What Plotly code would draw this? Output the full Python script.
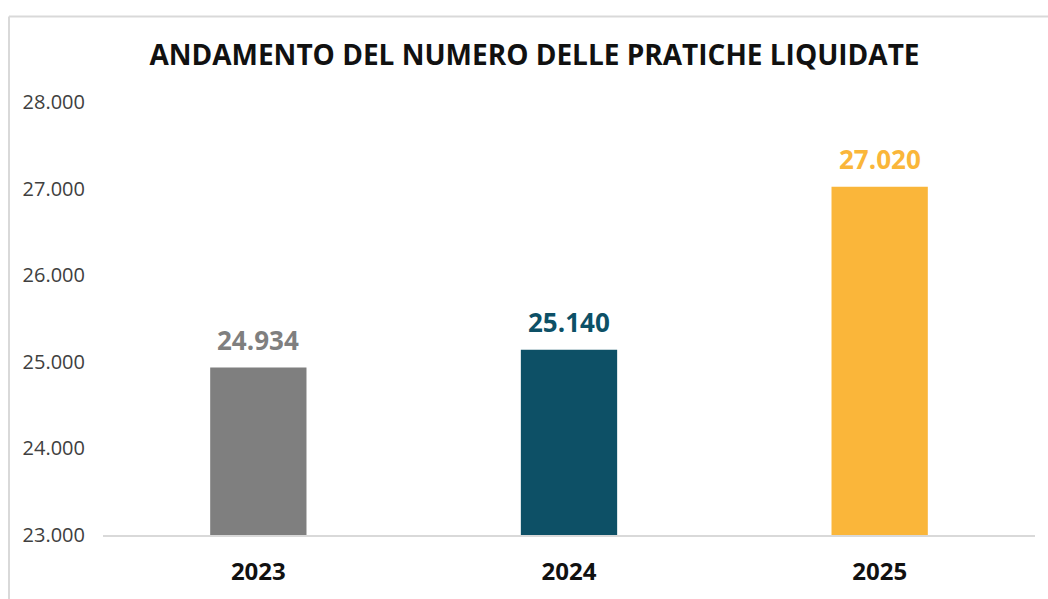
import plotly.graph_objects as go

years = ["2023", "2024", "2025"]
values = [24934, 25140, 27020]
bar_colors = ["#7f7f7f", "#0d5066", "#fab63a"]
y_ticks = [23000, 24000, 25000, 26000, 27000, 28000]
title_text = "ANDAMENTO DEL NUMERO DELLE PRATICHE LIQUIDATE"

W, H = 1048, 599
ml, mr, mt, mb = 103, 13, 102, 56

fig = go.Figure()
fig.add_trace(go.Bar(
    x=list(range(len(years))), y=values, marker_color=bar_colors, marker_line_width=0,
    width=0.31, hoverinfo="skip"
))

for i, (v, c) in enumerate(zip(values, bar_colors)):
    fig.add_annotation(
        x=i, y=v, xref="x", yref="y", text=f"<b>{v:,}</b>".replace(",", "."),
        showarrow=False, yanchor="bottom", yshift=8,
        font=dict(family="Open Sans", size=26, color=c)
    )

pw = W - ml - mr
ph = H - mt - mb

def px_to_paper_x(px):
    return (px - ml) / pw

def px_to_paper_y(py):
    return (H - mb - py) / ph

fig.add_shape(type="line", xref="paper", yref="paper",
              x0=px_to_paper_x(9), x1=px_to_paper_x(1048), y0=px_to_paper_y(15), y1=px_to_paper_y(15),
              line=dict(color="#d9d9d9", width=2))
fig.add_shape(type="line", xref="paper", yref="paper",
              x0=px_to_paper_x(9), x1=px_to_paper_x(9), y0=px_to_paper_y(15), y1=px_to_paper_y(610),
              line=dict(color="#d9d9d9", width=2))

fig.update_layout(
    width=W, height=H,
    margin=dict(l=ml, r=mr, t=mt, b=mb),
    paper_bgcolor="white", plot_bgcolor="white",
    separators=",.",
    showlegend=False,
    title=dict(text=f"<b>{title_text}</b>", x=0.51, xanchor="center",
               y=1 - 55 / H, yanchor="middle",
               font=dict(family="Open Sans", size=28, color="#111111")),
    xaxis=dict(range=[-0.5, len(years) - 0.5], tickvals=list(range(len(years))), ticktext=years,
               showline=True, linecolor="#d9d9d9", linewidth=2, zeroline=False,
               tickfont=dict(family="Open Sans", size=24, color="#111111", weight=700),
               ticks="", ticklabelstandoff=14, showgrid=False),
    yaxis=dict(range=[23000, 28000], tickvals=y_ticks, tickformat=",d",
               showgrid=False, zeroline=False, showline=False, ticks="",
               tickfont=dict(family="Open Sans", size=20, color="#404040"),
               ticklabelstandoff=17),
)

fig.write_html("out.html")
